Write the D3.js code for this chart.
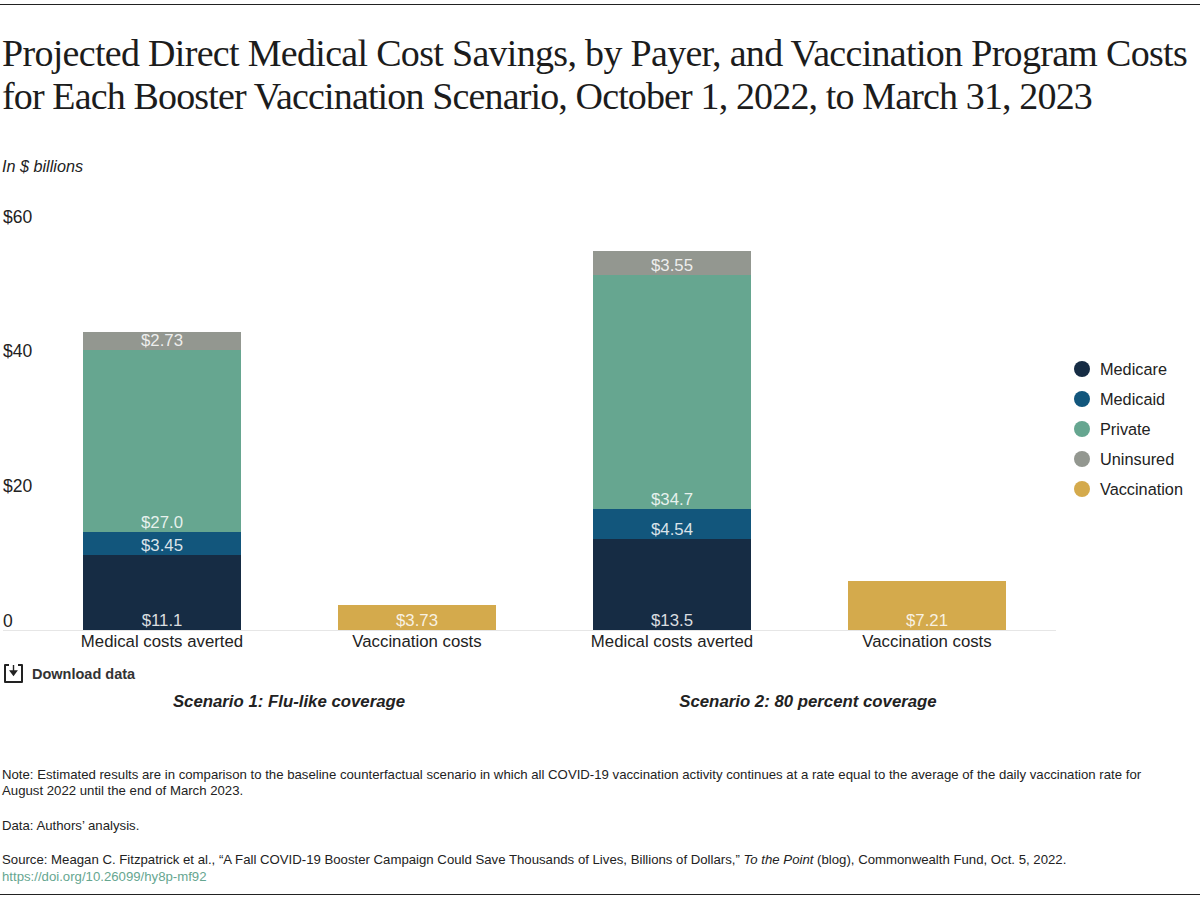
<!DOCTYPE html>
<html lang="en">
<head>
  <meta charset="UTF-8">
  <title>Projected Direct Medical Cost Savings</title>
  <script src="https://d3js.org/d3.v7.min.js"></script>
  <style>
    body { margin: 0; background: #fff; }
    svg { display: block; font-family: 'Liberation Sans', Arial, sans-serif; fill: #222; }
    .title { font-family: 'Liberation Serif', serif; font-size: 38px; fill: #1c1c1c; }
    .axis path, .axis line { display: none; }
    .axis text { font-size: 17.5px; fill: #222; text-anchor: start; font-family: 'Liberation Sans', Arial, sans-serif; }
    .cat { font-size: 16.8px; text-anchor: middle; }
    .value { font-size: 16.8px; text-anchor: middle; }
    .legend { font-size: 16.3px; }
    .scenario { font-size: 16.8px; font-weight: bold; font-style: italic; text-anchor: middle; }
    .foot { font-size: 13.2px; }
  </style>
</head>
<body>
<svg id="chart" width="1200" height="900"></svg>

<script>
const bars = ["Medical costs averted", "Vaccination costs", "Medical costs averted", "Vaccination costs"];
const payers = ["Medicare", "Medicaid", "Private", "Uninsured", "Vaccination"];
const medicare = [11.1, 0, 13.5, 0];
const medicaid = [3.45, 0, 4.54, 0];
const privateIns = [27.0, 0, 34.7, 0];
const uninsured = [2.73, 0, 3.55, 0];
const vaccination = [0, 3.73, 0, 7.21];
const valueLabels = [
  ["$11.1", "", "$13.5", ""],
  ["$3.45", "", "$4.54", ""],
  ["$27.0", "", "$34.7", ""],
  ["$2.73", "", "$3.55", ""],
  ["", "$3.73", "", "$7.21"]
];
const colors = ["#162c44", "#12567c", "#66a690", "#939790", "#d4aa4c"];
const yTicks = [0, 20, 40, 60];
const scenarios = ["Scenario 1: Flu-like coverage", "Scenario 2: 80 percent coverage"];
const titleLines = [
  "Projected Direct Medical Cost Savings, by Payer, and Vaccination Program Costs",
  "for Each Booster Vaccination Scenario, October 1, 2022, to March 31, 2023"
];
const noteLines = [
  "Note: Estimated results are in comparison to the baseline counterfactual scenario in which all COVID-19 vaccination activity continues at a rate equal to the average of the daily vaccination rate for",
  "August 2022 until the end of March 2023."
];

const svg = d3.select("#chart");

const x = d3.scaleBand().domain(d3.range(bars.length)).range([34.5, 1054.5]).paddingInner(0.38).paddingOuter(0.19);
const y = d3.scaleLinear().domain([0, 60]).range([630, 226]);

// top and bottom rules
svg.selectAll(".rule").data([4.5, 894.5]).join("line")
  .attr("x1", 0).attr("x2", 1200).attr("y1", d => d).attr("y2", d => d)
  .attr("stroke", "#222").attr("stroke-width", 1);

svg.selectAll(".title").data(titleLines).join("text")
  .attr("class", "title").attr("x", 2).attr("y", (d, i) => 66 + i * 43)
  .attr("letter-spacing", (d, i) => i === 0 ? "-0.69px" : "-0.86px")
  .text(d => d);

svg.append("text").attr("x", 2).attr("y", 172).attr("font-size", 16.2).attr("font-style", "italic").text("In $ billions");

// y labels sit above the value they mark
const yAxis = svg.append("g").attr("class", "axis").attr("transform", "translate(3,0)")
  .call(d3.axisLeft(y).tickValues(yTicks).tickFormat(d => d === 0 ? "0" : "$" + d));
yAxis.selectAll("text").attr("x", 0).attr("dy", "-0.22em");

svg.append("line").attr("x1", 3).attr("x2", 1056).attr("y1", y(0) + 0.5).attr("y2", y(0) + 0.5)
  .attr("stroke", "#e6e6e6");

const stackData = bars.map((b, i) => ({
  i, Medicare: medicare[i], Medicaid: medicaid[i], Private: privateIns[i],
  Uninsured: uninsured[i], Vaccination: vaccination[i]
}));
const layers = d3.stack().keys(payers)(stackData);

layers.forEach((layer, k) => {
  svg.append("g").attr("shape-rendering", "crispEdges").selectAll("rect").data(layer).join("rect")
    .attr("x", d => x(d.data.i))
    .attr("width", x.bandwidth())
    .attr("y", d => y(d[1]))
    .attr("height", d => y(d[0]) - y(d[1]))
    .attr("fill", colors[k]);
  svg.append("g").selectAll("text").data(layer).join("text")
    .attr("class", "value")
    .attr("x", d => x(d.data.i) + x.bandwidth() / 2)
    .attr("y", d => y(d[0]) - 4)
    .attr("fill", "#fff").attr("fill-opacity", 0.85)
    .text(d => valueLabels[k][d.data.i]);
});

svg.selectAll(".cat").data(bars).join("text")
  .attr("class", "cat")
  .attr("x", (d, i) => x(i) + x.bandwidth() / 2)
  .attr("y", 647).text(d => d);

// download link
const dl = svg.append("g").attr("transform", "translate(4,665)");
dl.append("path").attr("d", "M5 0H1V17H18V0H14").attr("fill", "none").attr("stroke", "#222").attr("stroke-width", 2).attr("stroke-linejoin", "round");
dl.append("path").attr("d", "M9.5 0V7M6.5 6L9.5 10L12.5 6Z").attr("fill", "#222").attr("stroke", "#222").attr("stroke-width", 1.4);
svg.append("text").attr("x", 32).attr("y", 679).attr("font-size", 14.5).attr("font-weight", "bold").attr("fill", "#333").text("Download data");

svg.selectAll(".scenario").data(scenarios).join("text")
  .attr("class", "scenario")
  .attr("x", (d, i) => i === 0 ? 289 : 808)
  .attr("y", 707).text(d => d);

// legend
const legend = svg.selectAll(".legend").data(payers).join("g")
  .attr("class", "legend")
  .attr("transform", (d, i) => `translate(0,${369 + i * 30})`);
legend.append("circle").attr("cx", 1082).attr("r", 8).attr("fill", (d, i) => colors[i]);
legend.append("text").attr("x", 1100).attr("y", 5.5).text(d => d);

// footnotes
svg.selectAll(".note").data(noteLines).join("text")
  .attr("class", "foot note").attr("x", 2).attr("y", (d, i) => 779 + i * 15.5).text(d => d);
svg.append("text").attr("class", "foot").attr("x", 2).attr("y", 830).text("Data: Authors’ analysis.");
const src = svg.append("text").attr("class", "foot").attr("x", 2).attr("y", 864);
src.append("tspan").text("Source: Meagan C. Fitzpatrick et al., “A Fall COVID-19 Booster Campaign Could Save Thousands of Lives, Billions of Dollars,” ");
src.append("tspan").attr("font-style", "italic").text("To the Point");
src.append("tspan").text(" (blog), Commonwealth Fund, Oct. 5, 2022.");
svg.append("text").attr("class", "foot").attr("x", 2).attr("y", 881).attr("fill", "#66a690").text("https://doi.org/10.26099/hy8p-mf92");
</script>
</body>
</html>
